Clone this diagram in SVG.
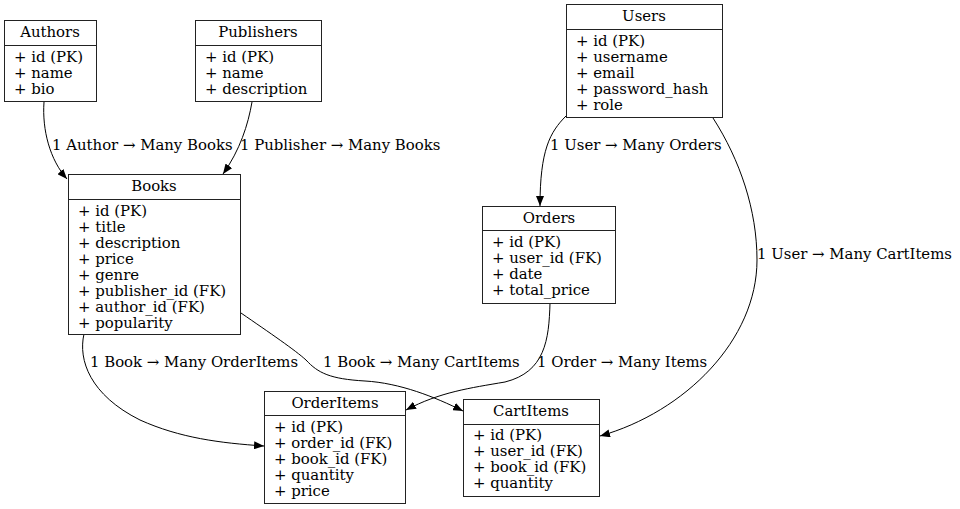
<svg xmlns="http://www.w3.org/2000/svg" width="960" height="509" viewBox="0 0 960 509">
<style>
text{font-family:"DejaVu Serif","Liberation Serif",serif;font-size:14.9px;fill:#000}
.t{text-anchor:middle}
rect{fill:#fff;stroke:#222;stroke-width:1}
line.h{stroke:#222;stroke-width:1}
.e{fill:none;stroke:#000;stroke-width:1;marker-end:url(#ah)}
</style>
<defs>
<marker id="ah" viewBox="0 0 10 8" refX="10" refY="4" markerWidth="10" markerHeight="8" markerUnits="userSpaceOnUse" orient="auto">
<path d="M0,0 L10,4 L0,8 z" fill="#000"/>
</marker>
</defs>
<rect x="0" y="0" width="960" height="509" style="fill:#fff;stroke:none"/>
<g id="edges">
<path class="e" d="M44,102 C42,130 50,160 67,179"/>
<path class="e" d="M252,102 C248,125 240,150 223,174"/>
<path class="e" d="M566,116 C550,132 540,150 540,206"/>
<path class="e" d="M713,118 C740,160 757,210 757,260 C757,340 685,412 600,436"/>
<path class="e" d="M84,334 C78,360 90,395 140,420 C180,438 220,443 264,446"/>
<path class="e" d="M241,313 C270,333 295,350 306,360 C318,373 330,379 365,381 C400,383 435,397 463,411"/>
<path class="e" d="M550,303 C549,340 545,372 505,382 C470,388 440,392 406,410"/>
<text x="52" y="150">1 Author → Many Books</text>
<text x="240" y="150">1 Publisher → Many Books</text>
<text x="550" y="150">1 User → Many Orders</text>
<text x="757" y="259">1 User → Many CartItems</text>
<text x="90" y="367">1 Book → Many OrderItems</text>
<text x="323" y="367">1 Book → Many CartItems</text>
<text x="537" y="367">1 Order → Many Items</text>
</g>
<g id="Authors">
<rect x="4.5" y="20.5" width="92" height="81"/>
<line class="h" x1="4.5" y1="45.5" x2="96.5" y2="45.5"/>
<text class="t" x="50" y="37">Authors</text>
<text x="14" y="62">+ id (PK)</text>
<text x="14" y="78">+ name</text>
<text x="14" y="94">+ bio</text>
</g>
<g id="Publishers">
<rect x="195.5" y="20.5" width="126" height="81"/>
<line class="h" x1="195.5" y1="45.5" x2="321.5" y2="45.5"/>
<text class="t" x="258" y="37">Publishers</text>
<text x="205" y="62">+ id (PK)</text>
<text x="205" y="78">+ name</text>
<text x="205" y="94">+ description</text>
</g>
<g id="Users">
<rect x="566.5" y="4.5" width="156" height="113"/>
<line class="h" x1="566.5" y1="29.5" x2="722.5" y2="29.5"/>
<text class="t" x="644" y="21">Users</text>
<text x="576" y="46">+ id (PK)</text>
<text x="576" y="62">+ username</text>
<text x="576" y="78">+ email</text>
<text x="576" y="94">+ password_hash</text>
<text x="576" y="110">+ role</text>
</g>
<g id="Books">
<rect x="68.5" y="174.5" width="172" height="160"/>
<line class="h" x1="68.5" y1="199.5" x2="240.5" y2="199.5"/>
<text class="t" x="154" y="191">Books</text>
<text x="78" y="216">+ id (PK)</text>
<text x="78" y="232">+ title</text>
<text x="78" y="248">+ description</text>
<text x="78" y="264">+ price</text>
<text x="78" y="280">+ genre</text>
<text x="78" y="296">+ publisher_id (FK)</text>
<text x="78" y="312">+ author_id (FK)</text>
<text x="78" y="328">+ popularity</text>
</g>
<g id="Orders">
<rect x="482.5" y="206.5" width="133" height="97"/>
<line class="h" x1="482.5" y1="230.5" x2="615.5" y2="230.5"/>
<text class="t" x="549" y="223">Orders</text>
<text x="492" y="247">+ id (PK)</text>
<text x="492" y="263">+ user_id (FK)</text>
<text x="492" y="279">+ date</text>
<text x="492" y="295">+ total_price</text>
</g>
<g id="OrderItems">
<rect x="264.5" y="391.5" width="141" height="112"/>
<line class="h" x1="264.5" y1="415.5" x2="405.5" y2="415.5"/>
<text class="t" x="335" y="408">OrderItems</text>
<text x="274" y="432">+ id (PK)</text>
<text x="274" y="448">+ order_id (FK)</text>
<text x="274" y="464">+ book_id (FK)</text>
<text x="274" y="480">+ quantity</text>
<text x="274" y="496">+ price</text>
</g>
<g id="CartItems">
<rect x="463.5" y="399.5" width="136" height="97"/>
<line class="h" x1="463.5" y1="424.5" x2="599.5" y2="424.5"/>
<text class="t" x="531" y="416">CartItems</text>
<text x="473" y="440">+ id (PK)</text>
<text x="473" y="456">+ user_id (FK)</text>
<text x="473" y="472">+ book_id (FK)</text>
<text x="473" y="488">+ quantity</text>
</g>
</svg>
